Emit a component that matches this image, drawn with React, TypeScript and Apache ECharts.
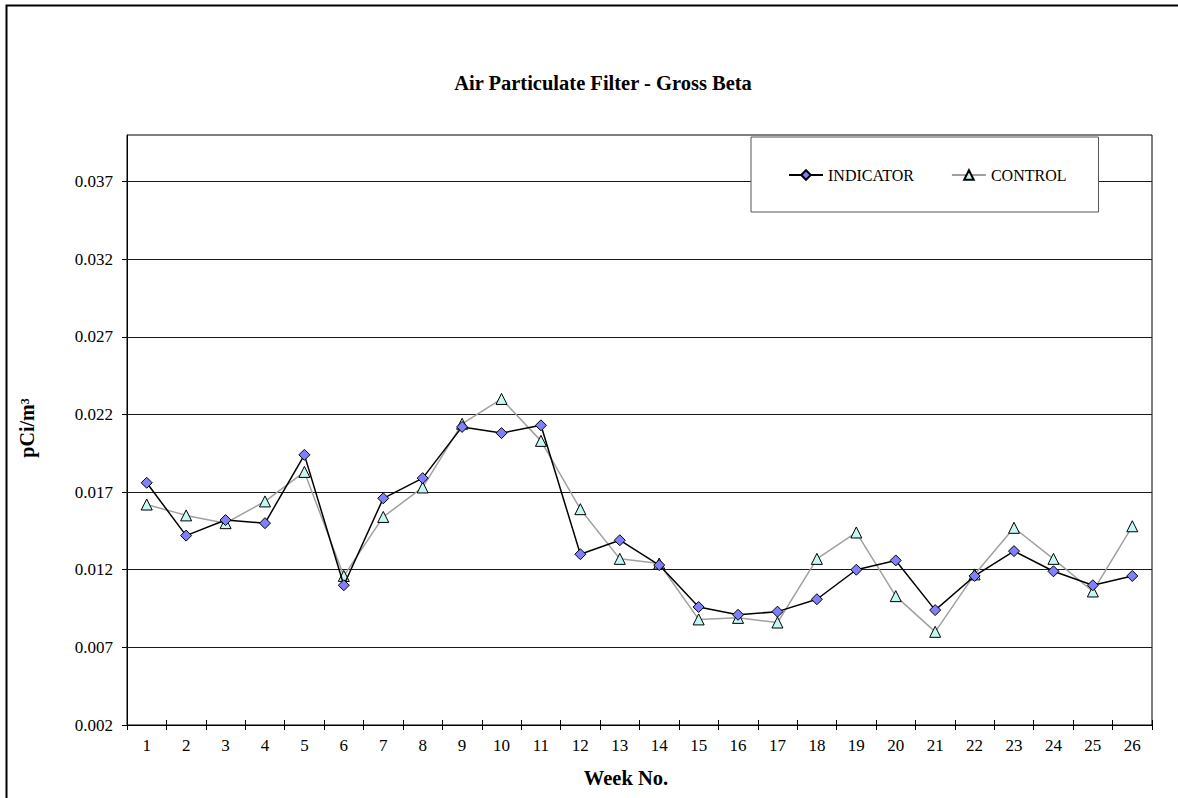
import React, { useEffect, useRef } from "react";
import * as echarts from "echarts";

const weeks = ["1","2","3","4","5","6","7","8","9","10","11","12","13","14","15","16","17","18","19","20","21","22","23","24","25","26"];
const indicator = [0.0176,0.0142,0.0152,0.0150,0.0194,0.0110,0.0166,0.0179,0.0212,0.0208,0.0213,0.0130,0.0139,0.0123,0.0096,0.0091,0.0093,0.0101,0.0120,0.0126,0.0094,0.0116,0.0132,0.0119,0.0110,0.0116];
const control = [0.0162,0.0155,0.0150,0.0164,0.0183,0.0116,0.0154,0.0173,0.0214,0.0230,0.0203,0.0159,0.0127,0.0124,0.0088,0.0089,0.0086,0.0127,0.0144,0.0103,0.0080,0.0117,0.0147,0.0127,0.0106,0.0148];
const yTicks = [0.002,0.007,0.012,0.017,0.022,0.027,0.032,0.037];
const gridValues = [0.007,0.012,0.017,0.022,0.027,0.032,0.037];

const FONT = "Liberation Serif";

export default function App() {
  const ref = useRef<HTMLDivElement>(null);
  useEffect(() => {
    if (!ref.current) return;
    const chart = echarts.init(ref.current, null, { renderer: "svg" });
    chart.setOption({
      animation: false,
      backgroundColor: "#ffffff",
      textStyle: { fontFamily: FONT },
      title: {
        text: "Air Particulate Filter - Gross Beta",
        left: 598,
        top: 67,
        textAlign: "center",
        textStyle: { fontFamily: FONT, fontWeight: "bold", fontSize: 20.5, color: "#000" },
      },
      graphic: [
        {
          type: "rect",
          z: -10,
          shape: { x: 6.5, y: 5.5, width: 1400, height: 1000 },
          style: { fill: "none", stroke: "#000", lineWidth: 2 },
        },
        {
          type: "text",
          x: 27,
          y: 428,
          rotation: Math.PI / 2,
          style: {
            text: "pCi/m³",
            fontFamily: FONT,
            fontWeight: "bold",
            fontSize: 20,
            fill: "#000",
            align: "center",
            verticalAlign: "middle",
          },
        },
        {
          type: "text",
          x: 626,
          y: 778,
          style: {
            text: "Week No.",
            fontFamily: FONT,
            fontWeight: "bold",
            fontSize: 20.5,
            fill: "#000",
            align: "center",
            verticalAlign: "middle",
          },
        },
      ],
      legend: {
        left: 751,
        top: 137,
        orient: "horizontal",
        data: ["INDICATOR", "CONTROL"],
        padding: [30, 32, 29, 37],
        itemGap: 37,
        itemWidth: 34,
        itemHeight: 12,
        borderColor: "#555",
        borderWidth: 1,
        backgroundColor: "#fff",
        textStyle: { fontFamily: FONT, fontSize: 16, color: "#000" },
      },
      grid: {
        left: 127,
        top: 135,
        right: 26,
        bottom: 73,
        show: true,
        borderColor: "#000",
        borderWidth: 1,
        backgroundColor: "transparent",
      },
      xAxis: [
        {
          type: "category",
          data: weeks,
          boundaryGap: true,
          axisLine: { lineStyle: { color: "#000", width: 1 } },
          axisTick: { show: true, inside: false, length: 5, lineStyle: { color: "#000" } },
          axisLabel: { fontFamily: FONT, fontSize: 17, color: "#000", margin: 12, interval: 0 },
          splitLine: { show: false },
        },
        {
          type: "category",
          data: weeks,
          position: "bottom",
          offset: 0,
          boundaryGap: true,
          axisLine: { show: false },
          axisTick: { show: true, inside: true, length: 5, lineStyle: { color: "#000" } },
          axisLabel: { show: false },
          splitLine: { show: false },
        },
      ],
      yAxis: {
        type: "value",
        min: 0.002,
        max: 0.04,
        axisLine: { show: true, lineStyle: { color: "#000", width: 1 } },
        axisTick: { show: true, length: 5, customValues: yTicks, lineStyle: { color: "#000" } },
        axisLabel: {
          customValues: yTicks,
          fontFamily: FONT,
          fontSize: 17,
          color: "#000",
          margin: 14,
          formatter: (v: number) => v.toFixed(3),
        },
        splitLine: { show: false },
      },
      series: [
        {
          name: "INDICATOR",
          type: "line",
          data: indicator,
          z: 4,
          symbol: "diamond",
          symbolSize: 11,
          lineStyle: { color: "#000", width: 1.5 },
          itemStyle: { color: "#8080ff", borderColor: "#000", borderWidth: 1 },
        },
        {
          name: "CONTROL",
          type: "line",
          data: control,
          z: 3,
          symbol: "triangle",
          symbolSize: 11,
          lineStyle: { color: "#a0a0a0", width: 1.5 },
          itemStyle: { color: "#c4f7f4", borderColor: "#000", borderWidth: 1 },
          markLine: {
            z: 1,
            silent: true,
            precision: 4,
            symbol: ["none", "none"],
            label: { show: false },
            lineStyle: { color: "#1a1a1a", width: 1, type: "solid" },
            data: gridValues.map((v) => ({ yAxis: v })),
          },
        },
      ],
    });
    return () => chart.dispose();
  }, []);
  return (
    <div
      ref={ref}
      style={{ position: "absolute", left: 0, top: 0, width: 1178, height: 798 }}
    />
  );
}
